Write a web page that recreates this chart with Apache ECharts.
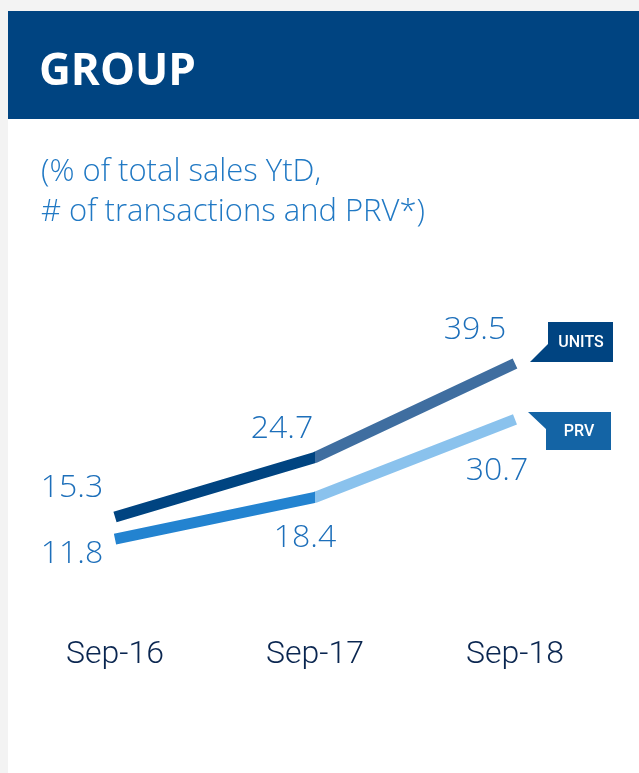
<!DOCTYPE html>
<html>
<head>
<meta charset="utf-8">
<script src="https://cdn.jsdelivr.net/npm/echarts@6/dist/echarts.min.js"></script>
<style>
  html, body { margin: 0; padding: 0; background: #f3f3f3; }
  #chart { width: 639px; height: 773px; }
</style>
</head>
<body>
<div id="chart"></div>
<script>
  // data
  var categories = ['Sep-16', 'Sep-17', 'Sep-18']
  var unitsValues = [15.3, 24.7, 39.5]
  var prvValues = [11.8, 18.4, 30.7]

  // label offsets (px) from each point, kept apart from the data
  var unitsLabelOffsets = [[-43, -29], [-33, -29], [-40, -34]]
  var prvLabelOffsets = [[-43, 15], [-10, 41], [-18, 52]]

  var labelBlue = '#1d6fba'
  var font = 'Roboto, "Open Sans", sans-serif'
  var wideFont = '"Open Sans", Roboto, sans-serif'

  function buildData (values, offsets) {
    return values.map(function (v, i) {
      return {
        value: v,
        label: { offset: offsets[i] }
      }
    })
  }

  // two-tone line: colour changes at the middle category (Sep-17)
  function twoTone (c1, c2) {
    return {
      type: 'linear', x: 0, y: 0, x2: 1, y2: 0,
      colorStops: [
        { offset: 0, color: c1 },
        { offset: 0.5, color: c1 },
        { offset: 0.5, color: c2 },
        { offset: 1, color: c2 }
      ]
    }
  }

  var myecharts = echarts.init(document.getElementById('chart'))

  var option = {
    backgroundColor: '#f3f3f3',
    animation: false,
    title: [
      {
        text: 'GROUP',
        left: 34,
        top: 45,
        textStyle: { color: '#ffffff', fontSize: 44, fontWeight: 'bold', fontFamily: '"Open Sans", sans-serif' }
      },
      {
        text: '(% of total sales YtD,\n# of transactions and PRV*)',
        left: 36,
        top: 147,
        textStyle: { color: '#2179c4', fontSize: 31, fontWeight: 300, lineHeight: 40, fontFamily: wideFont }
      }
    ],
    graphic: [
      { type: 'rect', z: -10, shape: { x: 8, y: 11, width: 631, height: 762 }, style: { fill: '#ffffff' } },
      { type: 'rect', z: -9, shape: { x: 8, y: 11, width: 631, height: 108 }, style: { fill: '#004481' } },
      {
        type: 'polygon', z: 10,
        shape: { points: [[530, 362], [548, 344], [548, 322], [613, 322], [613, 362]] },
        style: { fill: '#004481' }
      },
      {
        type: 'text', z: 11, x: 581, y: 343,
        style: { text: 'UNITS', fill: '#ffffff', fontSize: 16, fontWeight: 500, fontFamily: font, align: 'center', verticalAlign: 'middle' }
      },
      {
        type: 'polygon', z: 10,
        shape: { points: [[528, 412], [611, 412], [611, 450], [546, 450], [546, 429]] },
        style: { fill: '#1464a5' }
      },
      {
        type: 'text', z: 11, x: 579, y: 432,
        style: { text: 'PRV', fill: '#ffffff', fontSize: 16, fontWeight: 500, fontFamily: font, align: 'center', verticalAlign: 'middle' }
      }
    ],
    grid: { left: 115, right: 124, top: 297, bottom: 159 },
    xAxis: {
      type: 'category',
      boundaryGap: false,
      data: categories,
      axisLine: { show: false },
      axisTick: { show: false },
      axisLabel: { color: '#0a2650', fontSize: 32, fontWeight: 300, fontFamily: font, margin: 25 }
    },
    yAxis: {
      type: 'value',
      min: 0,
      max: 50,
      show: false
    },
    series: [
      {
        name: 'UNITS',
        type: 'line',
        data: buildData(unitsValues, unitsLabelOffsets),
        symbol: 'circle',
        symbolSize: 0.1,
        itemStyle: { color: 'transparent' },
        lineStyle: { width: 11, cap: 'butt', color: twoTone('#004481', '#3f6ea0') },
        label: {
          show: true, position: 'inside', color: labelBlue,
          fontSize: 32, fontWeight: 300, fontFamily: wideFont
        }
      },
      {
        name: 'PRV',
        type: 'line',
        data: buildData(prvValues, prvLabelOffsets),
        symbol: 'circle',
        symbolSize: 0.1,
        itemStyle: { color: 'transparent' },
        lineStyle: { width: 11, cap: 'butt', color: twoTone('#2383d0', '#8ac2ed') },
        label: {
          show: true, position: 'inside', color: labelBlue,
          fontSize: 32, fontWeight: 300, fontFamily: wideFont
        }
      }
    ]
  }

  myecharts.setOption(option)
</script>
</body>
</html>
